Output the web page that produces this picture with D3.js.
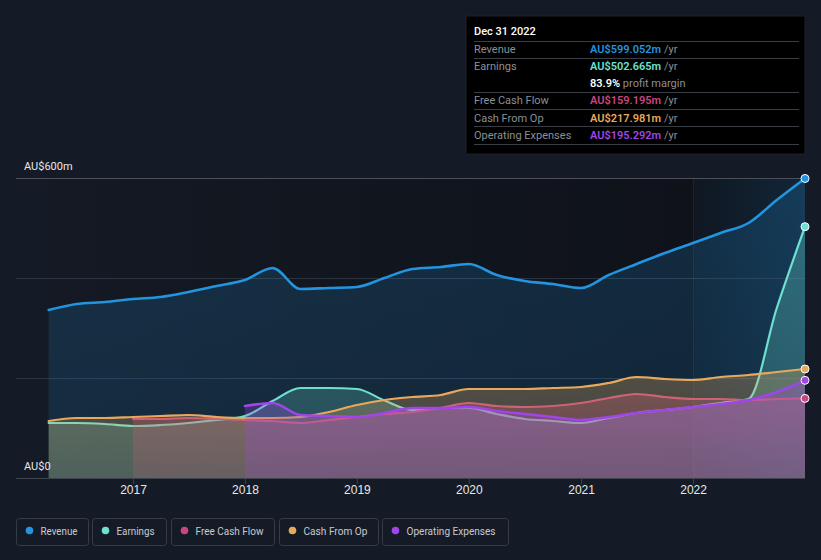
<!DOCTYPE html>
<html>
<head>
<meta charset="utf-8">
<script src="https://cdn.jsdelivr.net/npm/d3@7"></script>
<style>
  html, body { margin: 0; padding: 0; background: #151b26; }
  svg { display: block; font-family: Roboto, "Noto Sans", sans-serif; }
</style>
</head>
<body>
<svg id="chart" width="821" height="560"></svg>
<script>
// ---- data (AU$ millions, trailing twelve months) ----
const quarters = ["2016-03-31","2016-06-30","2016-09-30","2016-12-31","2017-03-31","2017-06-30","2017-09-30","2017-12-31",
  "2018-03-31","2018-06-30","2018-09-30","2018-12-31","2019-03-31","2019-06-30","2019-09-30","2019-12-31",
  "2020-03-31","2020-06-30","2020-09-30","2020-12-31","2021-03-31","2021-06-30","2021-09-30","2021-12-31",
  "2022-03-31","2022-06-30","2022-09-30","2022-12-31"];
const revenue = [336,348,352,358,362,372,384,396,420,378,380,382,400,418,422,428,406,394,388,380,406,428,450,470,490,510,556,599.052];
const earnings = [110,110,108,104,106,110,116,124,154,180,180,178,155,136,140,140,128,118,114,110,120,130,136,142,150,158,340,502.665];
const cashFromOp = [114,120,120,122,124,126,122,120,120,122,132,146,156,162,166,178,178,178,180,182,190,202,198,196,202,206,212,217.981];
const fcfStart = 3;   // Free cash flow begins Dec 2016
const freeCashFlow = [118,118,120,118,116,114,110,116,122,128,132,140,150,144,142,144,150,160,168,162,158,158,156,158,159.195];
const opexStart = 7;  // Operating expenses begin Dec 2017
const operatingExpenses = [144,150,126,124,122,130,140,140,142,134,128,122,116,122,130,136,142,148,156,172,195.292];
const yTickLabels = ["AU$0", "AU$600m"];
const yearTicks = [2017, 2018, 2019, 2020, 2021, 2022];
const legendNames = ["Revenue", "Earnings", "Free Cash Flow", "Cash From Op", "Operating Expenses"];
const tooltipTitle = "Dec 31 2022";
const tooltipRows = [
  {label: "Revenue", value: "AU$599.052m", suffix: " /yr", key: "rev"},
  {label: "Earnings", value: "AU$502.665m", suffix: " /yr", key: "earn"},
  {label: "", value: "83.9%", suffix: " profit margin", key: "margin"},
  {label: "Free Cash Flow", value: "AU$159.195m", suffix: " /yr", key: "fcf"},
  {label: "Cash From Op", value: "AU$217.981m", suffix: " /yr", key: "cfo"},
  {label: "Operating Expenses", value: "AU$195.292m", suffix: " /yr", key: "opex"}
];

const colors = {rev: "#2394df", earn: "#6ee0d0", fcf: "#c8477f", cfo: "#e8a95b", opex: "#a046e8", margin: "#ffffff"};

const parse = d3.timeParse("%Y-%m-%d");
const dates = quarters.map(parse);
function series(vals, start) { return vals.map((v, i) => ({date: dates[start + i], value: v})); }

const seriesList = [
  {key: "rev", name: "Revenue", data: series(revenue, 0), width: 2.6},
  {key: "earn", name: "Earnings", data: series(earnings, 0), width: 2.2},
  {key: "fcf", name: "Free Cash Flow", data: series(freeCashFlow, fcfStart), width: 2.2},
  {key: "cfo", name: "Cash From Op", data: series(cashFromOp, 0), width: 2.2},
  {key: "opex", name: "Operating Expenses", data: series(operatingExpenses, opexStart), width: 2.6}
];

const svg = d3.select("#chart");
const x = d3.scaleTime().domain([new Date(2016, 11, 31), new Date(2022, 11, 31)]).range([133, 805]);
const y = d3.scaleLinear().domain([0, 600]).range([478, 178]);

const defs = svg.append("defs");
const bgGrad = defs.append("linearGradient").attr("id", "bgGrad").attr("x1", 0).attr("x2", 1).attr("y1", 0).attr("y2", 0);
bgGrad.append("stop").attr("offset", "0%").attr("stop-color", "#141923");
bgGrad.append("stop").attr("offset", "100%").attr("stop-color", "#0e1118");
const hlGrad = defs.append("linearGradient").attr("id", "hlGrad").attr("x1", 0).attr("x2", 1).attr("y1", 0).attr("y2", 0);
hlGrad.append("stop").attr("offset", "0%").attr("stop-color", "#2394df").attr("stop-opacity", 0.04);
hlGrad.append("stop").attr("offset", "100%").attr("stop-color", "#2394df").attr("stop-opacity", 0.16);
seriesList.forEach(s => {
  const g = defs.append("linearGradient").attr("id", "fill-" + s.key).attr("x1", 0).attr("x2", 0).attr("y1", 0).attr("y2", 1);
  g.append("stop").attr("offset", "0%").attr("stop-color", colors[s.key]).attr("stop-opacity", s.key === "rev" ? 0.2 : 0.3);
  g.append("stop").attr("offset", "100%").attr("stop-color", colors[s.key]).attr("stop-opacity", s.key === "rev" ? 0.14 : 0.2);
});

const x0 = x(dates[0]);
// plot background
svg.append("rect").attr("x", x0).attr("y", y(600)).attr("width", x.range()[1] - x0).attr("height", y(0) - y(600)).attr("fill", "url(#bgGrad)");
svg.append("rect").attr("x", x(new Date(2021, 11, 31))).attr("y", y(600))
  .attr("width", x.range()[1] - x(new Date(2021, 11, 31))).attr("height", y(0) - y(600)).attr("fill", "url(#hlGrad)");

// grid
const grid = [0, 200, 400, 600];
svg.append("g").selectAll("line").data(grid).join("line")
  .attr("x1", 16).attr("x2", 805).attr("y1", d => y(d) + 0.5).attr("y2", d => y(d) + 0.5)
  .attr("stroke", d => d === 0 ? "#3e434d" : (d === 600 ? "#4a4f58" : "#2c3340")).attr("stroke-width", 1);
svg.append("line").attr("x1", x(new Date(2021, 11, 31)) + 0.5).attr("x2", x(new Date(2021, 11, 31)) + 0.5)
  .attr("y1", y(600)).attr("y2", y(0)).attr("stroke", "#ffffff").attr("stroke-opacity", 0.06);

// series
const area = d3.area().x(d => x(d.date)).y0(y(0)).y1(d => y(d.value)).curve(d3.curveMonotoneX);
const line = d3.line().x(d => x(d.date)).y(d => y(d.value)).curve(d3.curveMonotoneX);
seriesList.forEach(s => {
  svg.append("path").datum(s.data).attr("d", area).attr("fill", "url(#fill-" + s.key + ")");
  svg.append("path").datum(s.data).attr("d", line).attr("fill", "none")
    .attr("stroke", colors[s.key]).attr("stroke-width", s.width).attr("stroke-linejoin", "round").attr("stroke-linecap", "round");
});
seriesList.forEach(s => {
  const last = s.data[s.data.length - 1];
  svg.append("circle").attr("cx", x(last.date)).attr("cy", y(last.value)).attr("r", 4)
    .attr("fill", colors[s.key]).attr("stroke", "#ffffff").attr("stroke-width", 1);
});

// x axis
const xAxis = d3.axisBottom(x).tickValues(yearTicks.map(yr => new Date(yr - 1, 11, 31))).tickFormat((d, i) => String(yearTicks[i])).tickSize(6).tickSizeOuter(0);
const gx = svg.append("g").attr("transform", "translate(0,478)").call(xAxis);
gx.select(".domain").remove();
gx.selectAll(".tick line").attr("stroke", "#3e434d");
gx.selectAll(".tick text").attr("fill", "#e8e8e8").attr("font-size", 12).attr("dy", "0.9em").attr("y", 5);

// y labels
svg.append("text").attr("x", 24).attr("y", y(600) - 8).attr("fill", "#e8e8e8").attr("font-size", 11).text(yTickLabels[1]);
svg.append("text").attr("x", 24).attr("y", y(0) - 8).attr("fill", "#e8e8e8").attr("font-size", 11).text(yTickLabels[0]);

// tooltip
const tt = svg.append("g");
tt.append("rect").attr("x", 466).attr("y", 16).attr("width", 339).attr("height", 138).attr("fill", "#000000").attr("stroke", "#1c2029");
tt.append("text").attr("x", 474).attr("y", 35).attr("fill", "#ffffff").attr("font-size", 11).attr("font-weight", 500).text(tooltipTitle);
const rowY = [53, 70, 87, 104, 122, 139];
const sepY = [41, 58, 92, 109, 126, 144];
sepY.forEach(sy => tt.append("line").attr("x1", 474).attr("x2", 799).attr("y1", sy + 0.5).attr("y2", sy + 0.5).attr("stroke", "#3a3d44"));
tooltipRows.forEach((r, i) => {
  tt.append("text").attr("x", 474).attr("y", rowY[i]).attr("fill", "#8c8f96").attr("font-size", 11).text(r.label);
  const t = tt.append("text").attr("x", 590).attr("y", rowY[i]).attr("font-size", 11);
  t.append("tspan").attr("fill", colors[r.key]).attr("font-weight", 600).text(r.value);
  t.append("tspan").attr("fill", "#8c8f96").text(r.suffix);
});

// legend
const legendX = [16, 92, 171, 279, 382];
const legendW = [72, 74, 103, 99, 126];
const legendTextW = [37, 38, 68, 64, 89];
const legendKeys = ["rev", "earn", "fcf", "cfo", "opex"];
legendNames.forEach((n, i) => {
  const g = svg.append("g").attr("transform", `translate(${legendX[i]},518)`);
  g.append("rect").attr("x", 0.5).attr("y", 0.5).attr("width", legendW[i]).attr("height", 27).attr("rx", 3)
    .attr("fill", "none").attr("stroke", "#363b46");
  g.append("circle").attr("cx", 13.5).attr("cy", 12.5).attr("r", 3.8).attr("fill", colors[legendKeys[i]]);
  g.append("text").attr("x", 24.5).attr("y", 16.5).attr("fill", "#c8cad0").attr("font-size", 11.5)
    .attr("textLength", legendTextW[i]).attr("lengthAdjust", "spacingAndGlyphs").text(n);
});
</script>
</body>
</html>
